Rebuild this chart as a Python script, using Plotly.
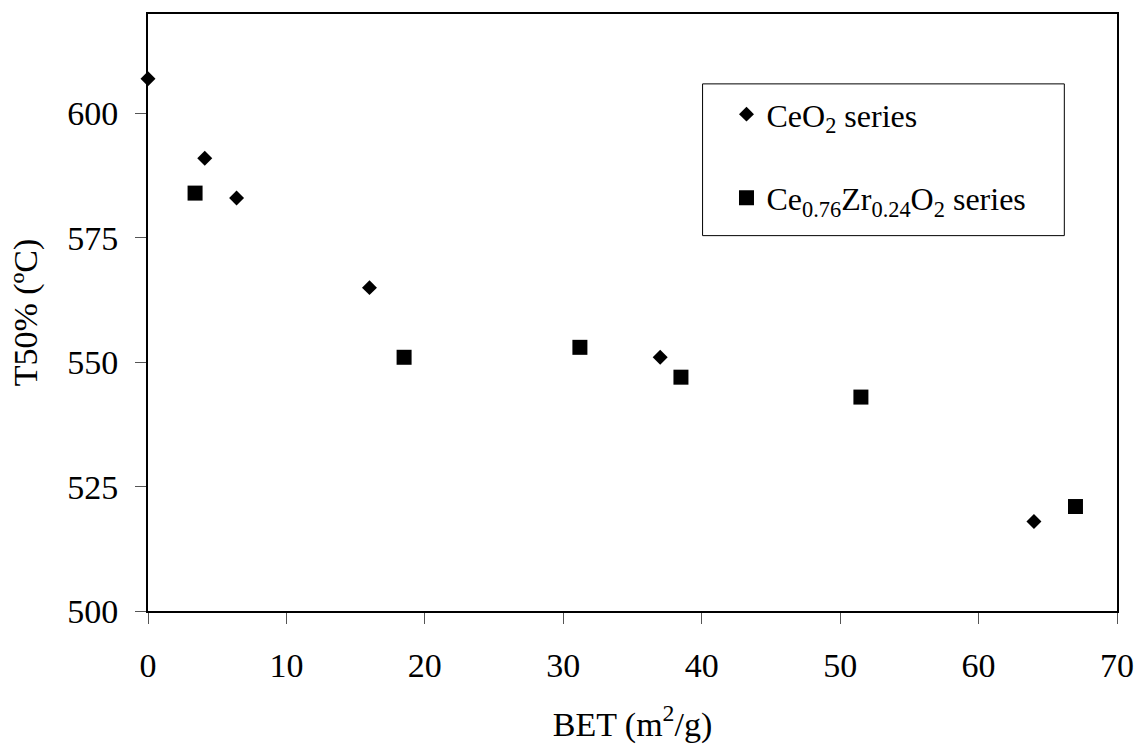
import plotly.graph_objects as go

# Data
ceo2_bet = [0.0, 4.1, 6.4, 16.0, 37.0, 64.0]
ceo2_t50 = [607, 591, 583, 565, 551, 518]
cezr_bet = [3.4, 18.5, 31.2, 38.5, 51.5, 67.0]
cezr_t50 = [584, 551, 553, 547, 543, 521]

x_ticks = [0, 10, 20, 30, 40, 50, 60, 70]
y_ticks = [500, 525, 550, 575, 600]

FONT = "Liberation Serif"

fig = go.Figure()
fig.add_trace(go.Scatter(
    x=ceo2_bet, y=ceo2_t50, mode="markers", name="CeO<sub>2</sub> series",
    legendgroup="a",
    marker=dict(symbol="diamond", size=11.5, color="black", line=dict(width=0)),
    cliponaxis=False,
))
fig.add_trace(go.Scatter(
    x=cezr_bet, y=cezr_t50, mode="markers",
    name="Ce<sub>0.76</sub>Zr<sub>0.24</sub>O<sub>2</sub> series",
    legendgroup="b",
    marker=dict(symbol="square", size=15, color="black", line=dict(width=0)),
    cliponaxis=False,
))

fig.update_layout(
    width=1146, height=755,
    margin=dict(l=148, r=23, t=13, b=144),
    paper_bgcolor="white", plot_bgcolor="white",
    font=dict(family=FONT, size=33, color="black"),
    showlegend=True,
    legend=dict(
        x=0.597, y=0.878, xanchor="left", yanchor="top",
        bgcolor="rgba(0,0,0,0)", borderwidth=0,
        font=dict(family=FONT, size=32, color="black"),
        tracegroupgap=39, itemsizing="trace",
    ),
    shapes=[dict(type="rect", xref="paper", yref="paper",
                 x0=(706 - 148) / 975, x1=(1070 - 148) / 975,
                 y0=(611 - 235) / 598, y1=(611 - 83) / 598,
                 line=dict(color="black", width=1), fillcolor="rgba(0,0,0,0)")],
)

fig.update_xaxes(
    range=[0, 70], tickvals=x_ticks, ticktext=[str(v) for v in x_ticks],
    showgrid=False, zeroline=False,
    showline=True, linecolor="black", linewidth=2, mirror=True,
    ticks="outside", ticklen=11, tickwidth=1, tickcolor="#555",
    tickfont=dict(family=FONT, size=34), ticklabelstandoff=12,
    title=dict(text="BET (m<sup>2</sup>/g)", font=dict(family=FONT, size=34), standoff=29),
)
fig.update_yaxes(
    range=[500, 620], tickvals=y_ticks, ticktext=[str(v) for v in y_ticks],
    showgrid=False, zeroline=False,
    showline=True, linecolor="black", linewidth=2, mirror=True,
    ticks="outside", ticklen=11, tickwidth=1, tickcolor="#555",
    tickfont=dict(family=FONT, size=34), ticklabelstandoff=10,
    title=dict(text="T50% (ºC)", font=dict(family=FONT, size=34), standoff=19),
)

fig.write_html("out.html")
